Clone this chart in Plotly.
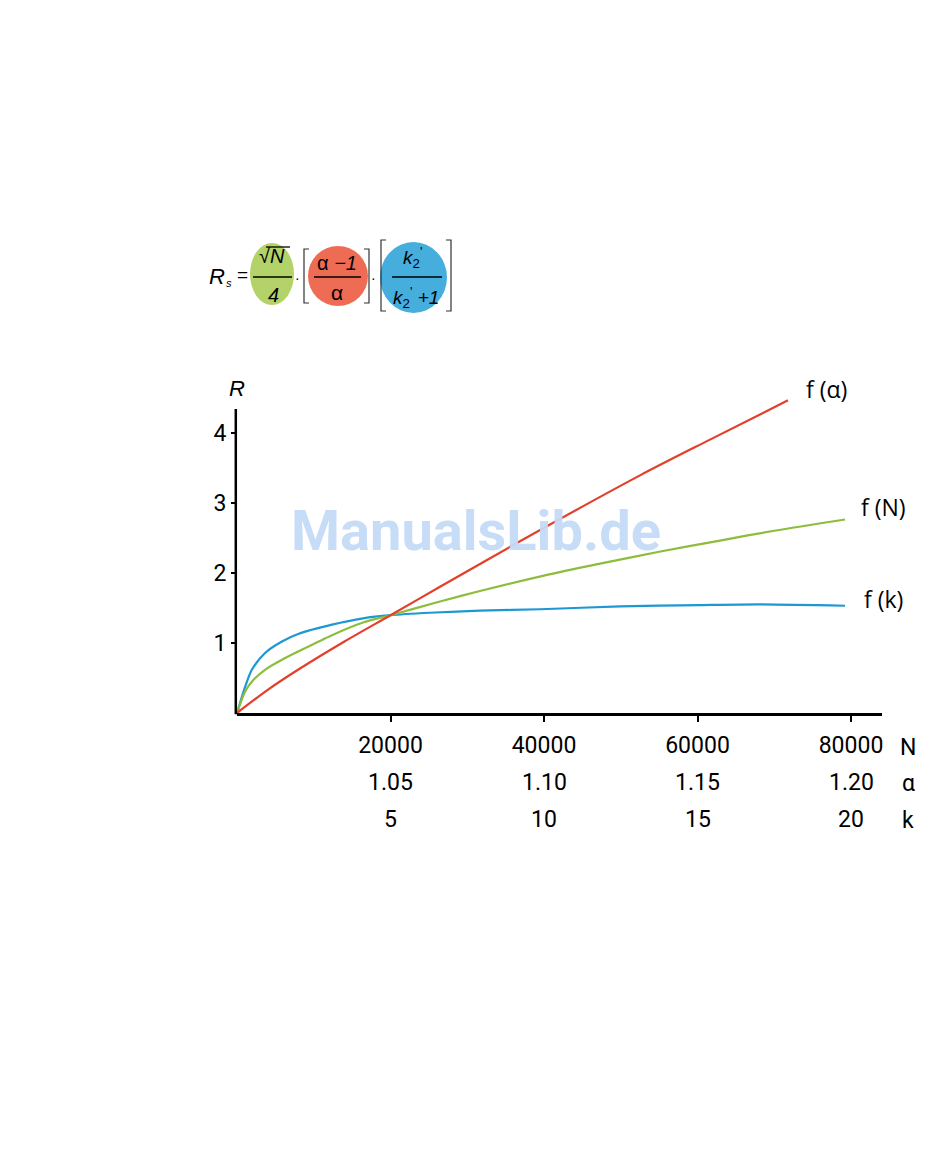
import plotly.graph_objects as go

# ---------------- data ----------------
N_alpha = [0, 4000, 8000, 14000, 20000, 26450, 36870, 52510, 61630, 71790]
R_alpha = [0, 0.33, 0.62, 1.02, 1.395, 1.80, 2.45, 3.39, 3.90, 4.46]

N_N = [0, 1080, 1950, 3690, 5860, 8040, 12380, 16420, 20000, 26450, 31660, 40000, 47300, 55000, 62930, 70000, 79220]
R_N = [0, 0.31, 0.45, 0.62, 0.76, 0.88, 1.11, 1.29, 1.395, 1.59, 1.74, 1.96, 2.13, 2.30, 2.46, 2.60, 2.76]

N_k = [0, 1080, 1950, 3690, 5860, 8040, 12380, 16420, 20000, 25150, 31660, 39480, 49900, 60330, 68140, 79220]
R_k = [0, 0.38, 0.62, 0.86, 1.02, 1.13, 1.26, 1.35, 1.395, 1.43, 1.46, 1.48, 1.52, 1.54, 1.55, 1.53]

x_ticks = [20000, 40000, 60000, 80000]
N_labels = ["20000", "40000", "60000", "80000"]
alpha_labels = ["1.05", "1.10", "1.15", "1.20"]
k_labels = ["5", "10", "15", "20"]
y_ticks = [1, 2, 3, 4]
y_labels = ["1", "2", "3", "4"]

# ---------------- layout geometry (page pixels) ----------------
OFF = 8                      # default page margin around the plot div
W, H = 950 - 2 * OFF, 1165 - 2 * OFF
L, R_, T, B = 237, 882, 390, 713
Y_AXIS_TOP = 409
PX_PER_N = 0.007675
PX_PER_R = 70.1

def px2x(px):
    return (px - L) / (R_ - L)

def px2y(py):
    return (B - py) / (B - T)

COND = "Roboto, sans-serif"
SANS = "Open Sans, Noto Sans, sans-serif"
ARIAL = "Liberation Sans, Arial, sans-serif"

RED = "#e2402a"
GREEN = "#8dbd3c"
BLUE = "#1e98d3"

fig = go.Figure()
for xs, ys, c in [(N_k, R_k, BLUE), (N_N, R_N, GREEN), (N_alpha, R_alpha, RED)]:
    fig.add_trace(go.Scatter(x=xs, y=ys, mode="lines",
                             line=dict(color=c, width=2.2, shape="spline", smoothing=0.8),
                             hoverinfo="skip", showlegend=False))

annotations = []

def ann(text, px, py, size, font=ARIAL, color="black", xanchor="center", **kw):
    annotations.append(dict(text=text, x=px2x(px), y=px2y(py), xref="paper", yref="paper",
                            showarrow=False, xanchor=xanchor, yanchor="middle",
                            font=dict(size=size, family=font, color=color), **kw))

# second and third rows of x labels, positioned by the x scale
for xv, a, k in zip(x_ticks, alpha_labels, k_labels):
    annotations.append(dict(text=a, x=xv, y=px2y(782), xref="x", yref="paper", showarrow=False,
                            xanchor="center", yanchor="middle", font=dict(size=23, family=COND, color="black")))
    annotations.append(dict(text=k, x=xv, y=px2y(819), xref="x", yref="paper", showarrow=False,
                            xanchor="center", yanchor="middle", font=dict(size=23, family=COND, color="black")))

ann("N", 908, 747, 23, font=COND)
ann("α", 908, 783, 23, font=COND)
ann("k", 908, 820, 23, font=COND)

# axis title
ann("<i>R</i>", 237, 388, 22, font=ARIAL)

# curve labels
ann("f (α)", 804, 389, 23, font=SANS, xanchor="left")
ann("f (N)", 859, 507, 23, font=SANS, xanchor="left")
ann("f (k)", 862, 599, 23, font=SANS, xanchor="left")

# watermark
ann("<b>ManualsLib.de</b>", 476, 531, 56, font="Roboto, sans-serif", color="rgba(196,218,246,0.95)")

shapes = []
# vertical axis line (stops below the top of the drawing area, as in the reference)
shapes.append(dict(type="line", xref="paper", yref="paper", x0=px2x(L - 1.2), x1=px2x(L - 1.2),
                   y0=px2y(B + 1.2), y1=px2y(Y_AXIS_TOP), line=dict(color="black", width=2.5)))

# formula
shapes.append(dict(type="circle", xref="paper", yref="paper", x0=px2x(250), x1=px2x(294),
                   y0=px2y(305), y1=px2y(243), fillcolor="#b3d36a", line=dict(width=0)))
shapes.append(dict(type="circle", xref="paper", yref="paper", x0=px2x(308), x1=px2x(368),
                   y0=px2y(306), y1=px2y(246), fillcolor="#ef6c54", line=dict(width=0)))
shapes.append(dict(type="circle", xref="paper", yref="paper", x0=px2x(380), x1=px2x(447),
                   y0=px2y(313), y1=px2y(242), fillcolor="#46aedd", line=dict(width=0)))
for x0, x1 in [(253, 292), (314, 361), (392, 442)]:
    shapes.append(dict(type="line", xref="paper", yref="paper", x0=px2x(x0), x1=px2x(x1),
                       y0=px2y(277), y1=px2y(277), line=dict(color="black", width=1.5)))
# radical overline
shapes.append(dict(type="line", xref="paper", yref="paper", x0=px2x(266), x1=px2x(290),
                   y0=px2y(247), y1=px2y(247), line=dict(color="black", width=1.3)))

def bracket(xa, xb, ya, yb):
    return (f"M {px2x(xb)},{px2y(ya)} L {px2x(xa)},{px2y(ya)} "
            f"L {px2x(xa)},{px2y(yb)} L {px2x(xb)},{px2y(yb)}")

for xa, xb, ya, yb in [(304, 309, 249, 303), (369, 364, 249, 303), (381, 386, 240, 311), (451, 446, 240, 311)]:
    shapes.append(dict(type="path", xref="paper", yref="paper", path=bracket(xa, xb, ya, yb),
                       line=dict(color="#333333", width=1.2)))

ann("<i>R</i>", 217, 276, 22)
ann("<i>s</i>", 229, 283, 11)
ann("=", 242, 274, 19)
ann("√<i>N</i>", 272, 256, 20)
ann("<i>4</i>", 273, 295, 20)
ann("·", 297, 278, 14)
ann("α <i>−1</i>", 337, 263, 20)
ann("α", 337, 292, 21)
ann("·", 373, 278, 14)
ann("<i>k</i><sub>2</sub><sup>'</sup>", 412, 258, 19)
ann("<i>k</i><sub>2</sub><sup>'</sup> <i>+1</i>", 416, 297, 19)

fig.update_layout(
    width=W, height=H, autosize=False,
    margin=dict(l=L - OFF, r=W - (R_ - OFF), t=T - OFF, b=H - (B - OFF), pad=0),
    paper_bgcolor="white", plot_bgcolor="white",
    showlegend=False,
    annotations=annotations, shapes=shapes,
    xaxis=dict(range=[0, (R_ - L) / PX_PER_N], showgrid=False, zeroline=False,
               showline=True, linecolor="black", linewidth=2.5,
               ticks="outside", ticklen=6, tickwidth=1.5, tickcolor="black",
               tickvals=x_ticks, ticktext=N_labels, ticklabelstandoff=4,
               tickfont=dict(size=23, family=COND, color="black")),
    yaxis=dict(range=[0, (B - T) / PX_PER_R], showgrid=False, zeroline=False,
               showline=False,
               ticks="outside", ticklen=5, tickwidth=1.5, tickcolor="black",
               tickvals=y_ticks, ticktext=y_labels,
               tickfont=dict(size=23, family=COND, color="black")),
)

fig.write_html("out.html")
